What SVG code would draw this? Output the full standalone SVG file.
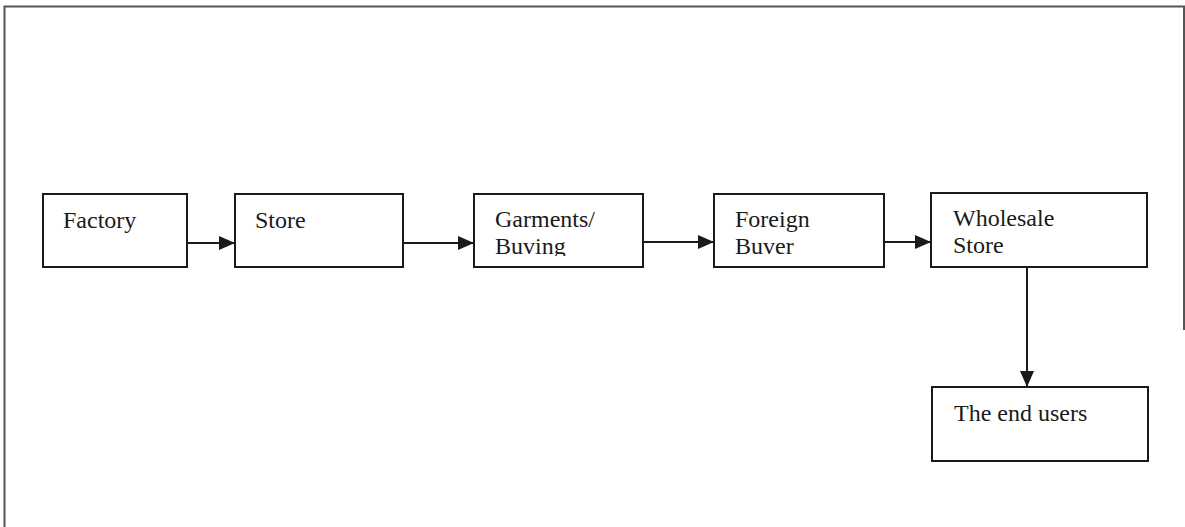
<svg xmlns="http://www.w3.org/2000/svg" width="1185" height="527" viewBox="0 0 1185 527">
<style>
.box{fill:#fff;stroke:#1a1a1a;stroke-width:2}
.lbl{font-family:"Liberation Serif","Times New Roman",serif;font-size:24px;fill:#1a1a1a}
.con{stroke:#1a1a1a;stroke-width:2;fill:none}
.frame{stroke:#555;stroke-width:2;fill:none}
</style>
<defs>
<marker id="ah" markerWidth="16" markerHeight="14" refX="16" refY="7" orient="auto" markerUnits="userSpaceOnUse">
<path d="M0,0 L16,7 L0,14 Z" fill="#1a1a1a"/>
</marker>
<clipPath id="c3"><rect x="474" y="194" width="169" height="62"/></clipPath>
<clipPath id="c4"><rect x="714" y="194" width="170" height="62"/></clipPath>
</defs>
<rect width="1185" height="527" fill="#fff"/>
<g id="frame">
<path class="frame" d="M4.5,527 V6.5 H1184 V330"/>
</g>
<g id="factory"><rect class="box" x="43" y="194" width="144" height="73"/><text class="lbl" x="63" y="228">Factory</text></g>
<g id="store"><rect class="box" x="235" y="194" width="168" height="73"/><text class="lbl" x="255" y="228">Store</text></g>
<g id="garments"><rect class="box" x="474" y="194" width="169" height="73"/><g clip-path="url(#c3)"><text class="lbl" x="495" y="227">Garments/</text><text class="lbl" x="495" y="254">Buving</text></g></g>
<g id="foreign"><rect class="box" x="714" y="194" width="170" height="73"/><g clip-path="url(#c4)"><text class="lbl" x="735" y="227">Foreign</text><text class="lbl" x="735" y="254">Buver</text></g></g>
<g id="wholesale"><rect class="box" x="931" y="193" width="216" height="74"/><text class="lbl" x="953" y="226">Wholesale</text><text class="lbl" x="953" y="253">Store</text></g>
<g id="endusers"><rect class="box" x="932" y="387" width="216" height="74"/><text class="lbl" x="954" y="421">The end users</text></g>
<g id="connectors">
<line class="con" x1="187" y1="243" x2="235" y2="243" marker-end="url(#ah)"/>
<line class="con" x1="403" y1="243" x2="474" y2="243" marker-end="url(#ah)"/>
<line class="con" x1="643" y1="242" x2="714" y2="242" marker-end="url(#ah)"/>
<line class="con" x1="884" y1="242" x2="931" y2="242" marker-end="url(#ah)"/>
<line class="con" x1="1027" y1="267" x2="1027" y2="387" marker-end="url(#ah)"/>
</g>
</svg>
